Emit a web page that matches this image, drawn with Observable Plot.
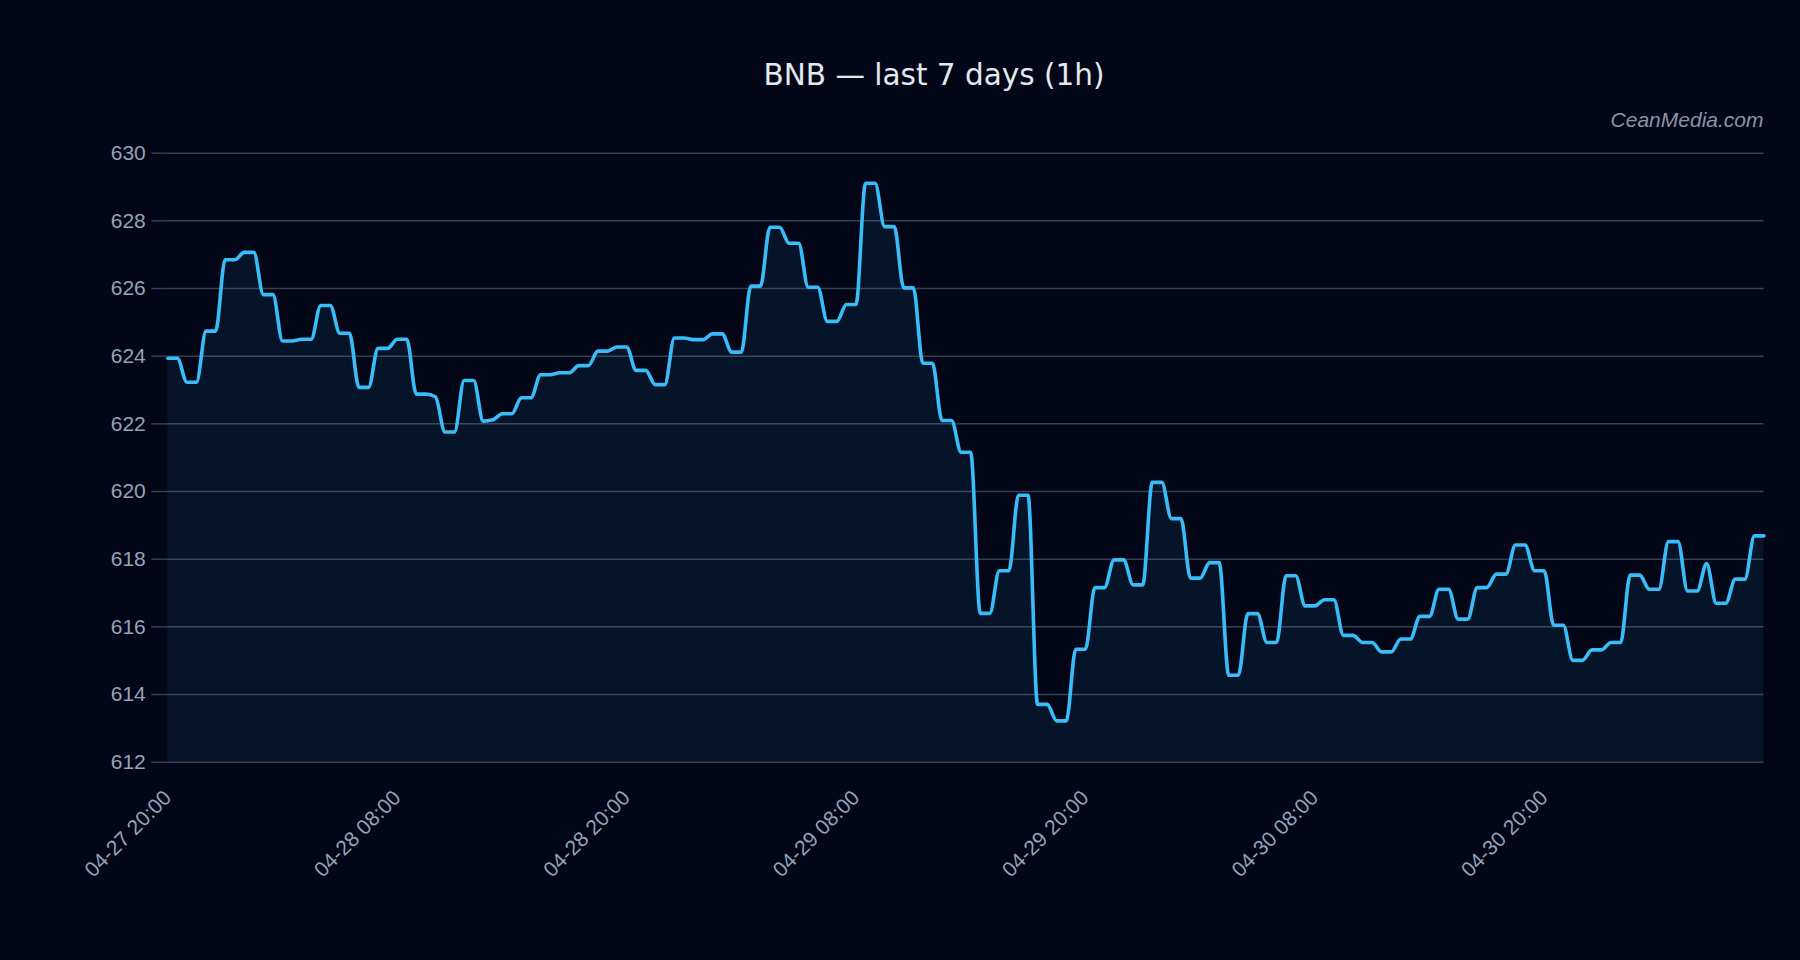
<!DOCTYPE html>
<html>
<head>
<meta charset="utf-8">
<script src="https://cdn.jsdelivr.net/npm/d3@7"></script>
<script src="https://cdn.jsdelivr.net/npm/@observablehq/plot@0.6"></script>
<style>
  html, body { margin: 0; padding: 0; background: #020617; }
  #wrap { width: 1800px; height: 960px; position: relative; background: #020617; overflow: hidden; }
  #head { position: relative; height: 130px; }
  #title { position: absolute; left: 934px; top: 61px; transform: translateX(-50%); font-family: "DejaVu Sans", sans-serif; font-size: 29.5px; line-height: 29.5px; color: #e2e8f0; white-space: nowrap; }
  #mark { position: absolute; right: 36.5px; top: 109px; font-family: "Liberation Sans", Arial, sans-serif; font-size: 21px; line-height: 21px; font-style: italic; color: #8b93a7; white-space: nowrap; }
  #chart svg { display: block; }
</style>
</head>
<body>
<div id="wrap">
  <div id="head">
    <div id="title">BNB — last 7 days (1h)</div>
    <div id="mark">CeanMedia.com</div>
  </div>
  <div id="chart"></div>
</div>
<script>
// ---- data ----
const startTime = "2025-04-27T20:00:00Z";
const stepMinutes = 30;
const prices = [
  623.94, 623.94, 623.23, 623.23, 624.74, 624.74, 626.85, 626.85, 627.07, 627.07,
  625.82, 625.82, 624.45, 624.45, 624.50, 624.50, 625.50, 625.50, 624.68, 624.68,
  623.08, 623.08, 624.23, 624.23, 624.50, 624.50, 622.88, 622.88, 622.80,
  621.76, 621.76, 623.28, 623.28, 622.08, 622.12, 622.30, 622.30, 622.77, 622.77,
  623.45, 623.45, 623.51, 623.51, 623.72, 623.72, 624.15, 624.15, 624.27, 624.27,
  623.58, 623.58, 623.16, 623.16, 624.54, 624.54, 624.49, 624.49, 624.66, 624.66,
  624.12, 624.12, 626.07, 626.07, 627.81, 627.81, 627.34, 627.34, 626.04, 626.04,
  625.03, 625.03, 625.53, 625.53, 629.11, 629.11, 627.83, 627.83, 626.02, 626.02,
  623.79, 623.79, 622.10, 622.10, 621.16, 621.16, 616.40, 616.40, 617.66, 617.66,
  619.89, 619.89, 613.71, 613.71, 613.22, 613.22, 615.34, 615.34, 617.16, 617.16,
  617.98, 617.98, 617.24, 617.24, 620.27, 620.27, 619.20, 619.20, 617.44, 617.44,
  617.90, 617.90, 614.57, 614.57, 616.39, 616.39, 615.54, 615.54, 617.51, 617.51,
  616.62, 616.62, 616.80, 616.80, 615.75, 615.75, 615.54, 615.54, 615.26, 615.26,
  615.64, 615.64, 616.31, 616.31, 617.11, 617.11, 616.23, 616.23, 617.16, 617.16,
  617.56, 617.56, 618.42, 618.42, 617.66, 617.66, 616.05, 616.05, 615.01, 615.01,
  615.32, 615.32, 615.54, 615.54, 617.53, 617.53, 617.11, 617.11, 618.52, 618.52,
  617.06, 617.06, 617.87,
  616.70, 616.70, 617.41, 617.41, 618.69, 618.69
];
const yDomain = [612, 630];
const yTicks = [612, 614, 616, 618, 620, 622, 624, 626, 628, 630];
const xTicks = [
  "2025-04-27T20:00:00Z", "2025-04-28T08:00:00Z", "2025-04-28T20:00:00Z",
  "2025-04-29T08:00:00Z", "2025-04-29T20:00:00Z", "2025-04-30T08:00:00Z",
  "2025-04-30T20:00:00Z"
];

// ---- build table ----
const t0 = new Date(startTime);
const table = prices.map((v, i) => ({ t: d3.utcMinute.offset(t0, i * stepMinutes), v }));
const xDomain = [table[0].t, table[table.length - 1].t];

const lineColor = "#38bdf8";
const gridColor = "#334155";
const textColor = "#94a3b8";

const chart = Plot.plot({
  width: 1800,
  height: 830,
  marginTop: 22.7,
  marginBottom: 198.3,
  marginLeft: 167.3,
  marginRight: 36.5,
  style: { background: "#020617", fontFamily: "'Liberation Sans', Arial, sans-serif", fontSize: "21px", color: textColor },
  x: { type: "utc", domain: xDomain },
  y: { domain: yDomain },
  marks: [
    Plot.gridY(yTicks, { stroke: gridColor, strokeOpacity: 1, strokeWidth: 1.5 }),
    Plot.areaY(table, { x: "t", y1: yDomain[0], y2: "v", curve: "monotone-x", fill: lineColor, fillOpacity: 0.08 }),
    Plot.lineY(table, { x: "t", y: "v", curve: "monotone-x", stroke: lineColor, strokeWidth: 3.6 }),
    Plot.axisY({ ticks: yTicks, tickSize: 16, tickPadding: 6, stroke: gridColor, strokeWidth: 1.5, fill: textColor, fontSize: 21, label: null }),
    Plot.axisX({ ticks: xTicks.map(s => new Date(s)), tickFormat: d3.utcFormat("%m-%d %H:%M"), tickRotate: -45, tickSize: 0, tickPadding: 32, fill: textColor, fontSize: 21, label: null })
  ]
});
document.getElementById("chart").appendChild(chart);
</script>
</body>
</html>
